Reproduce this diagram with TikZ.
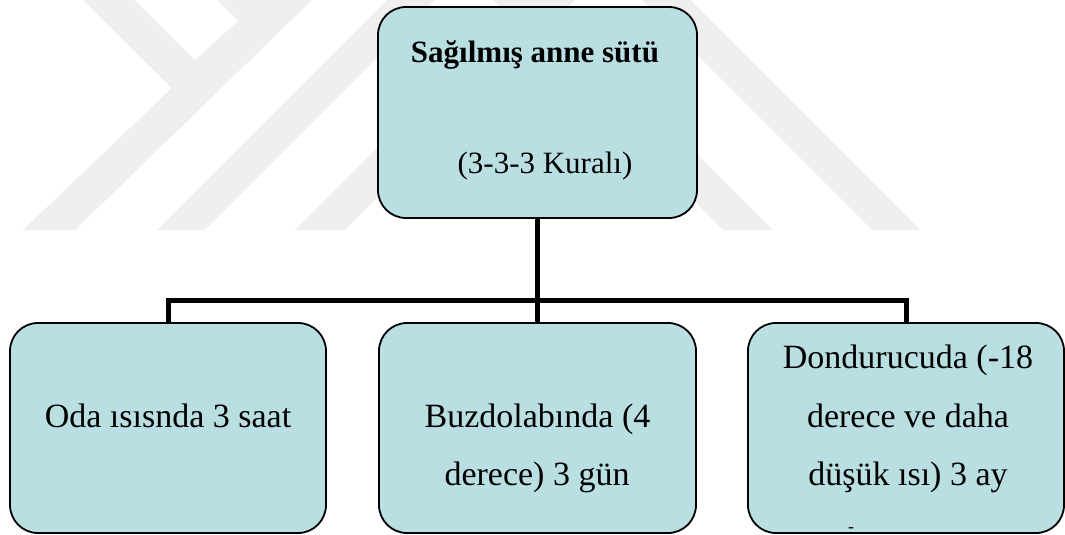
\documentclass[tikz,border=0pt]{standalone}
\usepackage{fontspec}
\setmainfont{Liberation Serif}
\definecolor{boxfill}{HTML}{BADFE3}
\definecolor{wmark}{HTML}{EFEFEF}
\tikzset{
  box/.style={draw=black, line width=1.8pt, fill=boxfill, rounded corners=28pt, inner sep=0pt},
  conn/.style={draw=black, line width=5pt},
  txt/.style={anchor=base, inner sep=0pt, font=\fontsize{34}{40}\selectfont},
  ttl/.style={anchor=base, inner sep=0pt, font=\fontsize{31}{36}\selectfont\bfseries},
  sub/.style={anchor=base, inner sep=0pt, font=\fontsize{31}{36}\selectfont},
  wm/.style={fill=wmark, draw=none}
}
\begin{document}
\begin{tikzpicture}[x=1pt, y=-1pt]
\useasboundingbox (0,0) rectangle (1065,535);
\fill[white] (0,0) rectangle (1065,535);
% watermark
\begin{scope}
\clip (0,0) rectangle (1065,535);
\fill[wm] (82,-1) -- (133,-1) -- (195,60) -- (238,21) -- (217,-1) -- (313,-1) -- (75,230) -- (23,230) -- (172,88) -- cycle;
\fill[wm] (157,230) -- (205,230) -- (436,-1) -- (388,-1) -- cycle;
\fill[wm] (295,230) -- (345,230) -- (576,-1) -- (526,-1) -- cycle;
\fill[wm] (872,230) -- (920,230) -- (689,-1) -- (641,-1) -- cycle;
\fill[wm] (723,230) -- (773,230) -- (542,-1) -- (492,-1) -- cycle;
\end{scope}
% boxes
\node[box, minimum width=319pt, minimum height=211pt] (top) at (537.5,112.5) {};
\node[box, minimum width=316pt, minimum height=210pt] (c1) at (168,428) {};
\node[box, minimum width=317pt, minimum height=210pt] (c2) at (537.5,428) {};
\node[box, minimum width=316pt, minimum height=210pt] (c3) at (906,428) {};
% connectors
\coordinate (j) at (537.5,300);
\draw[conn] (top.south) -- (j);
\draw[conn] (j) -- (c2.north);
\draw[conn] (c1.north) -- (c1.north |- j) -- (c3.north |- j) -- (c3.north);
% texts
\node[ttl] (t1) at (535,63) {Sağılmış anne sütü};
\node[sub] (t2) at (545,173) {(3-3-3 Kuralı)};
\node[txt] (a1) at (168,427) {Oda ısısnda 3 saat};
\node[txt] (b1) at (537.5,427) {Buzdolabında (4};
\node[txt] (b2) at (537,485) {derece) 3 gün};
\node[txt] (d1) at (908,368) {Dondurucuda (-18};
\node[txt] (d2) at (908,427) {derece ve daha};
\node[txt] (d3) at (908,485) {düşük ısı) 3 ay};
\node[anchor=base, inner sep=0pt, font=\fontsize{18}{20}\selectfont] (d4) at (851,532) {-};
\end{tikzpicture}
\end{document}
